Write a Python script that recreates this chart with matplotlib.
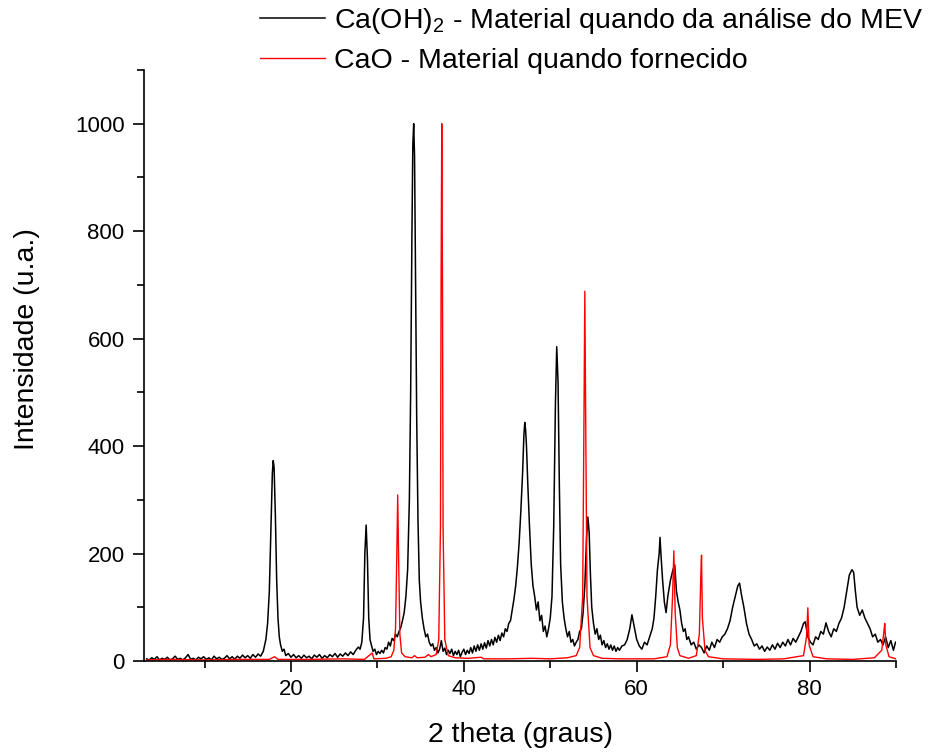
import matplotlib
matplotlib.use("Agg")
import matplotlib.pyplot as plt
from matplotlib.ticker import MultipleLocator

plt.rcParams['font.family'] = ['Liberation Sans', 'DejaVu Sans']
plt.rcParams['mathtext.default'] = 'regular'

# Ca(OH)2 pattern (black)
caoh_x = [3.3, 3.6, 3.9, 4.2, 4.5, 4.8, 5.1, 5.4, 5.7, 6.0, 6.3, 6.6, 6.9, 7.2, 7.5, 7.8, 8.1, 8.4, 8.7, 9.0,
          9.3, 9.6, 9.9, 10.2, 10.5, 10.8, 11.1, 11.4, 11.7, 12.0, 12.3, 12.6, 12.9, 13.2, 13.5, 13.8, 14.1, 14.4,
          14.7, 15.0, 15.3, 15.6, 15.9, 16.2, 16.5, 16.8, 17.1, 17.3, 17.5, 17.7, 17.85, 17.95, 18.05, 18.2, 18.35,
          18.5, 18.65, 18.8, 19.0, 19.2, 19.4, 19.7, 20.0, 20.3, 20.6, 20.9, 21.2, 21.5, 21.8, 22.1, 22.4, 22.7,
          23.0, 23.3, 23.6, 23.9, 24.2, 24.5, 24.8, 25.1, 25.4, 25.7, 26.0, 26.3, 26.6, 26.9, 27.2, 27.5, 27.8,
          28.0, 28.2, 28.4, 28.55, 28.7, 28.85, 29.0, 29.15, 29.3, 29.5, 29.7, 29.9, 30.1, 30.3, 30.5, 30.7, 30.9,
          31.1, 31.3, 31.5, 31.7, 31.9, 32.1, 32.3, 32.5, 32.7, 32.9, 33.1, 33.3, 33.5, 33.7, 33.85, 34.0, 34.1,
          34.2, 34.3, 34.4, 34.55, 34.7, 34.85, 35.0, 35.2, 35.4, 35.6, 35.8, 36.0, 36.2, 36.4, 36.6, 36.8, 37.0,
          37.2, 37.4, 37.6, 37.8, 38.0, 38.2, 38.4, 38.6, 38.8, 39.0, 39.2, 39.4, 39.6, 39.8, 40.0, 40.2, 40.4,
          40.6, 40.8, 41.0, 41.2, 41.4, 41.6, 41.8, 42.0, 42.2, 42.4, 42.6, 42.8, 43.0, 43.2, 43.4, 43.6, 43.8,
          44.0, 44.2, 44.4, 44.6, 44.8, 45.0, 45.2, 45.4, 45.6, 45.8, 46.0, 46.2, 46.4, 46.6, 46.8, 46.95, 47.05,
          47.15, 47.25, 47.4, 47.6, 47.8, 48.0, 48.2, 48.4, 48.6, 48.8, 49.0, 49.2, 49.4, 49.6, 49.8, 50.0, 50.2,
          50.4, 50.6, 50.75, 50.9, 51.05, 51.2, 51.4, 51.6, 51.8, 52.0, 52.2, 52.4, 52.6, 52.8, 53.0, 53.2, 53.4,
          53.6, 53.8, 54.0, 54.2, 54.35, 54.5, 54.65, 54.8, 55.0, 55.2, 55.4, 55.6, 55.8, 56.0, 56.2, 56.4, 56.6,
          56.8, 57.0, 57.2, 57.4, 57.6, 57.8, 58.0, 58.3, 58.6, 58.9, 59.2, 59.45, 59.7, 60.0, 60.3, 60.6, 60.9,
          61.2, 61.5, 61.8, 62.0, 62.2, 62.4, 62.6, 62.7, 62.8, 63.0, 63.2, 63.4, 63.6, 63.9, 64.2, 64.4, 64.6,
          64.8, 65.0, 65.2, 65.4, 65.6, 65.8, 66.0, 66.3, 66.6, 66.9, 67.2, 67.5, 67.8, 68.1, 68.4, 68.7, 69.0,
          69.3, 69.6, 69.9, 70.2, 70.5, 70.8, 71.1, 71.4, 71.7, 71.9, 72.1, 72.4, 72.7, 73.0, 73.3, 73.6, 73.9,
          74.2, 74.5, 74.8, 75.1, 75.4, 75.7, 76.0, 76.3, 76.6, 76.9, 77.2, 77.5, 77.8, 78.1, 78.4, 78.7, 79.0,
          79.3, 79.5, 79.8, 80.1, 80.4, 80.7, 81.0, 81.3, 81.6, 81.9, 82.2, 82.5, 82.8, 83.1, 83.4, 83.7, 84.0,
          84.3, 84.6, 84.9, 85.1, 85.3, 85.5, 85.8, 86.1, 86.4, 86.7, 87.0, 87.3, 87.6, 87.9, 88.2, 88.5, 88.8,
          89.1, 89.4, 89.7, 89.95]
caoh_y = [4, 2, 6, 3, 8, 2, 5, 3, 7, 2, 4, 9, 3, 5, 2, 6, 12, 3, 5, 2,
          7, 4, 8, 3, 6, 2, 9, 4, 7, 3, 5, 10, 4, 8, 3, 9, 5, 11,
          6, 10, 5, 12, 7, 13, 9, 18, 40, 70, 130, 260, 350, 373, 360, 270, 150,
          80, 45, 30, 18, 22, 10, 14, 7, 12, 6, 10, 5, 11, 6, 9, 4, 11,
          7, 12, 5, 10, 6, 12, 8, 14, 7, 13, 9, 15, 10, 17, 12, 20, 26,
          22, 35, 80, 200, 253, 190, 80, 40, 30, 18, 22, 12, 18, 14, 20, 15, 25,
          22, 35, 28, 42, 38, 50, 45, 55, 62, 75, 90, 120, 170, 300, 500, 800, 960,
          1000, 940, 750, 450, 260, 150, 110, 80, 60, 45, 50, 35, 28, 32, 20, 25, 15,
          22, 38, 18, 24, 12, 20, 14, 22, 10, 18, 12, 20, 8, 16, 22, 12, 20,
          14, 25, 15, 28, 18, 30, 20, 32, 22, 34, 24, 38, 28, 40, 30, 44, 35,
          48, 38, 52, 45, 60, 55, 70, 75, 95, 115, 140, 175, 220, 280, 350, 420, 444,
          430, 400, 330, 250, 180, 140, 120, 95, 110, 75, 85, 55, 65, 45, 60, 80, 120,
          250, 480, 585, 520, 330, 180, 110, 80, 60, 45, 55, 35, 40, 28, 35, 40, 55,
          60, 90, 140, 230, 268, 240, 160, 100, 70, 50, 60, 40, 48, 30, 38, 25, 32,
          22, 30, 20, 28, 18, 25, 20, 28, 30, 40, 60, 86, 65, 40, 28, 22, 35,
          30, 45, 60, 80, 120, 170, 200, 230, 200, 150, 110, 90, 120, 150, 170, 179, 130,
          110, 95, 70, 55, 60, 40, 45, 30, 35, 22, 30, 25, 15, 28, 20, 35, 25,
          40, 35, 45, 50, 60, 75, 100, 120, 140, 145, 125, 100, 70, 50, 40, 28, 32,
          22, 28, 18, 26, 20, 30, 22, 33, 25, 35, 28, 40, 30, 42, 35, 45, 55,
          70, 73, 45, 35, 30, 45, 40, 55, 50, 71, 55, 45, 60, 55, 70, 80, 100,
          130, 160, 170, 165, 130, 100, 85, 95, 80, 70, 60, 45, 50, 35, 40, 30, 45,
          25, 38, 20, 35]

# CaO pattern (red)
cao_x = [3.3, 6.0, 10.0, 14.0, 17.5, 18.1, 18.5, 22.0, 26.0, 28.5, 29.4, 29.6, 31.0, 31.6, 31.9, 32.1, 32.25,
         32.35, 32.45, 32.6, 32.8, 33.2, 34.0, 34.3, 34.6, 35.5, 35.9, 36.2, 36.8, 37.1, 37.3, 37.37, 37.45,
         37.53, 37.6, 37.8, 38.2, 39.0, 40.5, 42.0, 42.3, 45.0, 48.0, 50.0, 52.0, 53.0, 53.4, 53.75, 53.9, 54.0,
         54.1, 54.25, 54.6, 55.0, 56.0, 58.0, 60.0, 62.0, 63.5, 63.9, 64.15, 64.3, 64.45, 64.7, 65.0, 66.0,
         66.9, 67.25, 67.42, 67.5, 67.6, 67.9, 68.3, 70.0, 74.0, 77.0, 79.3, 79.65, 79.8, 79.95, 80.4, 82.0,
         85.0, 87.5, 88.35, 88.6, 88.7, 88.82, 89.2, 90.0]
cao_y = [2, 3, 2, 3, 3, 8, 3, 3, 4, 3, 15, 4, 5, 8, 20, 60, 200,
         309, 200, 50, 15, 8, 6, 10, 6, 7, 12, 8, 12, 40, 250, 700, 1000,
         700, 250, 40, 10, 6, 5, 7, 4, 4, 5, 4, 6, 10, 25, 120, 450, 688,
         450, 120, 25, 10, 5, 4, 4, 4, 8, 30, 120, 205, 90, 25, 10, 5,
         10, 50, 160, 197, 80, 20, 8, 4, 3, 4, 10, 45, 99, 30, 8, 4,
         3, 6, 20, 55, 70, 30, 8, 4]

x_major = [20, 40, 60, 80]
y_major = [0, 200, 400, 600, 800, 1000]
label_black = r'Ca(OH)$_2$ - Material quando da análise do MEV'
label_red = 'CaO - Material quando fornecido'

W, H = 932, 756
L, R, B, T = 144, 896, 661, 70
fig = plt.figure(figsize=(W/100, H/100), dpi=100)
ax = fig.add_axes([L/W, 1 - B/H, (R-L)/W, (B-T)/H])

l1, = ax.plot(caoh_x, caoh_y, color='black', lw=1.1, label=label_black)
l2, = ax.plot(cao_x, cao_y, color='red', lw=1.0, label=label_red)

ax.set_xlim(3, 90)
ax.set_ylim(0, 1100)
ax.set_xticks(x_major)
ax.set_yticks(y_major)
ax.xaxis.set_minor_locator(MultipleLocator(10))
ax.yaxis.set_minor_locator(MultipleLocator(100))
for s in ['top', 'right']:
    ax.spines[s].set_visible(False)
for s in ['left', 'bottom']:
    ax.spines[s].set_linewidth(1.2)
ax.tick_params(which='major', direction='out', length=8, width=1.2, labelsize=16)
ax.tick_params(axis='x', which='major', pad=5)
ax.tick_params(axis='y', which='major', pad=6)
ax.tick_params(which='minor', direction='out', length=5, width=1.2)

ax.set_xlabel('2 theta (graus)', fontsize=20.5)
ax.set_ylabel('Intensidade (u.a.)', fontsize=20.5)
ax.xaxis.set_label_coords((520 - L) / (R - L), -(722 - B) / (B - T))
ax.yaxis.set_label_coords(-(L - 40) / (R - L), (B - 339) / (B - T))

fig.legend(handles=[l1, l2], loc='upper left', bbox_to_anchor=(257/W, 1 - 3/H), frameon=False,
           fontsize=20.5, handlelength=2.28, handletextpad=0.31, labelspacing=0.42,
           borderaxespad=0.0, borderpad=0.1)

fig.savefig('out.png', dpi=100)
